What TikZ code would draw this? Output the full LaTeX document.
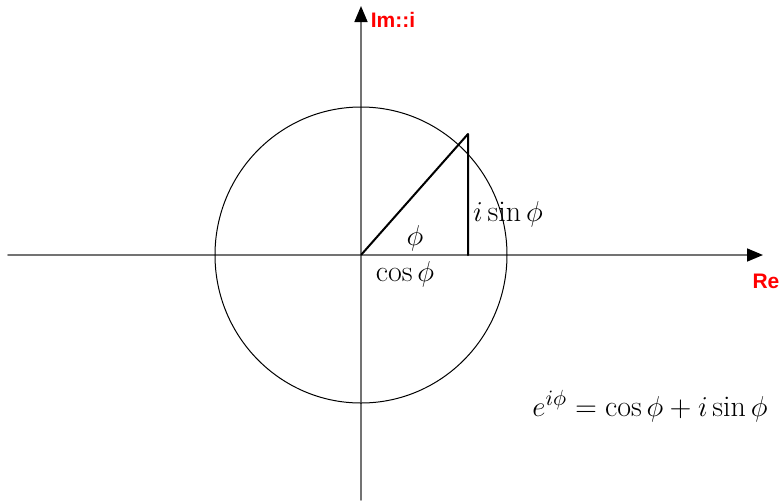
\documentclass[tikz,border=0pt]{standalone}
\usepackage{fontspec}
\newfontfamily\labelfont{Liberation Sans}
\usetikzlibrary{arrows.meta}
\begin{document}
\begin{tikzpicture}[x=0.5pt, y=0.5pt, line join=round, line cap=round,
    axis/.style={draw=gray!90!black, line width=0.8pt, -{Triangle[length=8pt, width=6.5pt, color=black]}},
    axislabel/.style={text=red, font=\labelfont\bfseries\fontsize{10.5}{12}\selectfont},
    mathlabel/.style={font=\fontsize{15}{17}\selectfont}]
            \useasboundingbox (-361,-245) rectangle (421,255);
            \path
            (0,0) coordinate (O)
            (-353,0) coordinate (L)
            (402,0) coordinate (R)
            (0,-245) coordinate (B)
            (0,249) coordinate (T)
            (107,121) coordinate (P)
            (107,0) coordinate (Q)
            ;
            \draw[axis] (L) -- (R);
            \draw[axis] (B) -- (T);
            \draw[line width=0.5pt] (O) ellipse [x radius=146, y radius=148];
            \draw[line width=1pt] (O) -- (P) -- (Q); % radius and sine
            \node[axislabel] (im) at (32,235) {Im::i};
            \node[axislabel] (re) at (405,-26) {Re};
            \node[mathlabel] (phi) at (54,17) {$\phi$};
            \node[mathlabel] (cos) at (44,-19) {$\cos\phi$};
            \node[mathlabel] (sin) at (147,41) {$i\sin\phi$};
            \node[mathlabel] (euler) at (289,-151) {$e^{i\phi}=\cos\phi+i\sin\phi$};
        \end{tikzpicture}
\end{document}
